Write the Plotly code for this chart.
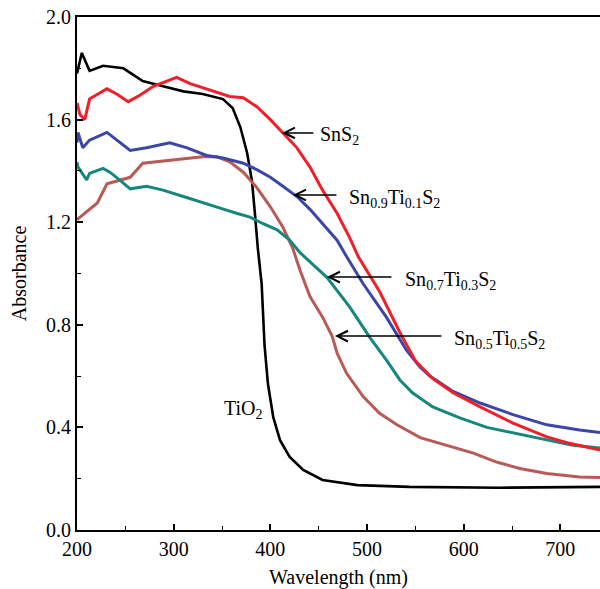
import plotly.graph_objects as go

# ---- data ----
tio2_x = [200, 205, 213, 227, 248, 268, 289, 310, 330, 351, 361, 369, 376, 381, 384, 387, 391, 394, 397.5, 403, 410, 420, 434, 454, 490, 544, 637, 741]
tio2_y = [1.78, 1.86, 1.79, 1.81, 1.80, 1.75, 1.73, 1.71, 1.70, 1.68, 1.645, 1.57, 1.47, 1.36, 1.235, 1.10, 0.96, 0.72, 0.57, 0.44, 0.35, 0.285, 0.234, 0.195, 0.175, 0.168, 0.165, 0.168]

sns2_x = [200, 203, 208, 213, 231, 241, 253, 265, 279, 296, 303, 317, 338, 358, 372, 386, 400, 413, 427.5, 441, 454, 469, 482, 491, 513, 534, 550, 568, 589, 617, 651, 686, 707, 741]
sns2_y = [1.665, 1.62, 1.60, 1.68, 1.72, 1.70, 1.67, 1.695, 1.73, 1.755, 1.765, 1.74, 1.715, 1.69, 1.685, 1.65, 1.60, 1.55, 1.49, 1.415, 1.325, 1.235, 1.14, 1.065, 0.93, 0.77, 0.66, 0.59, 0.535, 0.48, 0.417, 0.363, 0.34, 0.312]

s09_x = [200, 201, 206, 213, 231, 241, 255, 272, 296, 314, 334, 351, 372, 386, 400, 413, 427.5, 441, 454, 469, 479, 496, 520, 541, 555, 565, 589, 617, 651, 686, 720, 741]
s09_y = [1.51, 1.55, 1.49, 1.52, 1.55, 1.52, 1.48, 1.49, 1.51, 1.49, 1.46, 1.45, 1.43, 1.405, 1.375, 1.34, 1.30, 1.25, 1.195, 1.13, 1.065, 0.96, 0.83, 0.70, 0.635, 0.60, 0.54, 0.495, 0.45, 0.41, 0.39, 0.38]

s07_x = [200, 201, 210, 213, 227, 234, 244, 255, 272, 289, 310, 330, 348, 365, 379, 392, 407, 420, 431, 458.5, 482, 503, 520.5, 534, 547, 568, 596, 624, 651, 686, 713, 741]
s07_y = [1.435, 1.415, 1.365, 1.39, 1.41, 1.395, 1.365, 1.33, 1.34, 1.325, 1.30, 1.275, 1.255, 1.235, 1.22, 1.195, 1.17, 1.13, 1.08, 0.985, 0.87, 0.75, 0.66, 0.585, 0.535, 0.48, 0.437, 0.40, 0.378, 0.35, 0.33, 0.32]

s05_x = [200, 221, 231, 244, 255, 268, 296, 330, 345, 358, 372, 386, 400, 413, 423, 431, 441, 454, 464, 469, 479, 496, 513, 531, 555, 583, 610, 634, 658, 686, 720, 741]
s05_y = [1.21, 1.275, 1.35, 1.365, 1.375, 1.43, 1.44, 1.455, 1.455, 1.435, 1.395, 1.335, 1.26, 1.18, 1.10, 1.01, 0.91, 0.83, 0.755, 0.69, 0.61, 0.52, 0.455, 0.41, 0.36, 0.33, 0.30, 0.265, 0.24, 0.22, 0.207, 0.205]

x_ticks = [200, 300, 400, 500, 600, 700]
y_ticks = [0.0, 0.4, 0.8, 1.2, 1.6, 2.0]
y_ticktext = ["0.0", "0.4", "0.8", "1.2", "1.6", "2.0"]

labels = ["SnS<sub>2</sub>", "Sn<sub>0.9</sub>Ti<sub>0.1</sub>S<sub>2</sub>",
          "Sn<sub>0.7</sub>Ti<sub>0.3</sub>S<sub>2</sub>", "Sn<sub>0.5</sub>Ti<sub>0.5</sub>S<sub>2</sub>"]
arrow_head_x = [412.0, 423.4, 458.5, 466.8]
arrow_tail_x = [446.1, 469.9, 526.8, 578.5]
arrow_y = [1.548, 1.306, 0.986, 0.756]
label_x = [449.2, 479.2, 537.1, 587.8]

FONT = "Liberation Serif"
FS = 20

fig = go.Figure()
series = [
    (tio2_x, tio2_y, "#000000", 2.6, "TiO2"),
    (s05_x, s05_y, "#B85A56", 3.0, "Sn0.5Ti0.5S2"),
    (s07_x, s07_y, "#17867C", 3.0, "Sn0.7Ti0.3S2"),
    (s09_x, s09_y, "#3A46A8", 3.0, "Sn0.9Ti0.1S2"),
    (sns2_x, sns2_y, "#F0202A", 3.0, "SnS2"),
]
for xs, ys, col, w, name in series:
    fig.add_trace(go.Scatter(x=xs, y=ys, mode="lines", name=name,
                             line=dict(color=col, width=w), showlegend=False))

for lab, hx, tx, ay, lx in zip(labels, arrow_head_x, arrow_tail_x, arrow_y, label_x):
    fig.add_annotation(x=hx, y=ay, ax=tx, ay=ay, axref="x", ayref="y", xref="x", yref="y",
                       text="", showarrow=True, arrowhead=5, arrowsize=1.4, arrowwidth=1.5,
                       arrowcolor="#000000")
    fig.add_annotation(x=lx, y=ay, xref="x", yref="y", text=lab, showarrow=False,
                       xanchor="left", yanchor="middle", yshift=-3,
                       font=dict(family=FONT, size=FS, color="#000000"))

fig.add_annotation(x=372.7, y=0.48, xref="x", yref="y", text="TiO<sub>2</sub>", showarrow=False,
                   xanchor="center", yanchor="middle", yshift=-3,
                   font=dict(family=FONT, size=FS, color="#000000"))

fig.update_layout(
    width=600, height=589,
    margin=dict(l=77, r=0, t=17, b=59),
    plot_bgcolor="white", paper_bgcolor="white",
    font=dict(family=FONT, size=FS, color="#000000"),
    xaxis=dict(range=[200, 741], tickvals=x_ticks, ticks="inside", ticklen=6, tickwidth=1.5,
               tickcolor="black", showline=True, linecolor="black", linewidth=1.8, mirror=True,
               showgrid=False, zeroline=False,
               minor=dict(dtick=50, tick0=200, ticks="inside", ticklen=4, tickwidth=1.2, tickcolor="black"),
               title=dict(text="Wavelength (nm)", standoff=12, font=dict(family=FONT, size=FS)),
               tickfont=dict(family=FONT, size=FS)),
    yaxis=dict(range=[0, 2.0], tickvals=y_ticks, ticktext=y_ticktext, ticks="inside", ticklen=6,
               tickwidth=1.5, tickcolor="black", showline=True, linecolor="black", linewidth=1.8,
               showgrid=False, zeroline=False,
               minor=dict(dtick=0.2, tick0=0, ticks="inside", ticklen=4, tickwidth=1.2, tickcolor="black"),
               title=dict(text="Absorbance", standoff=14, font=dict(family=FONT, size=FS)),
               tickfont=dict(family=FONT, size=FS)),
)

fig.write_html("out.html")
